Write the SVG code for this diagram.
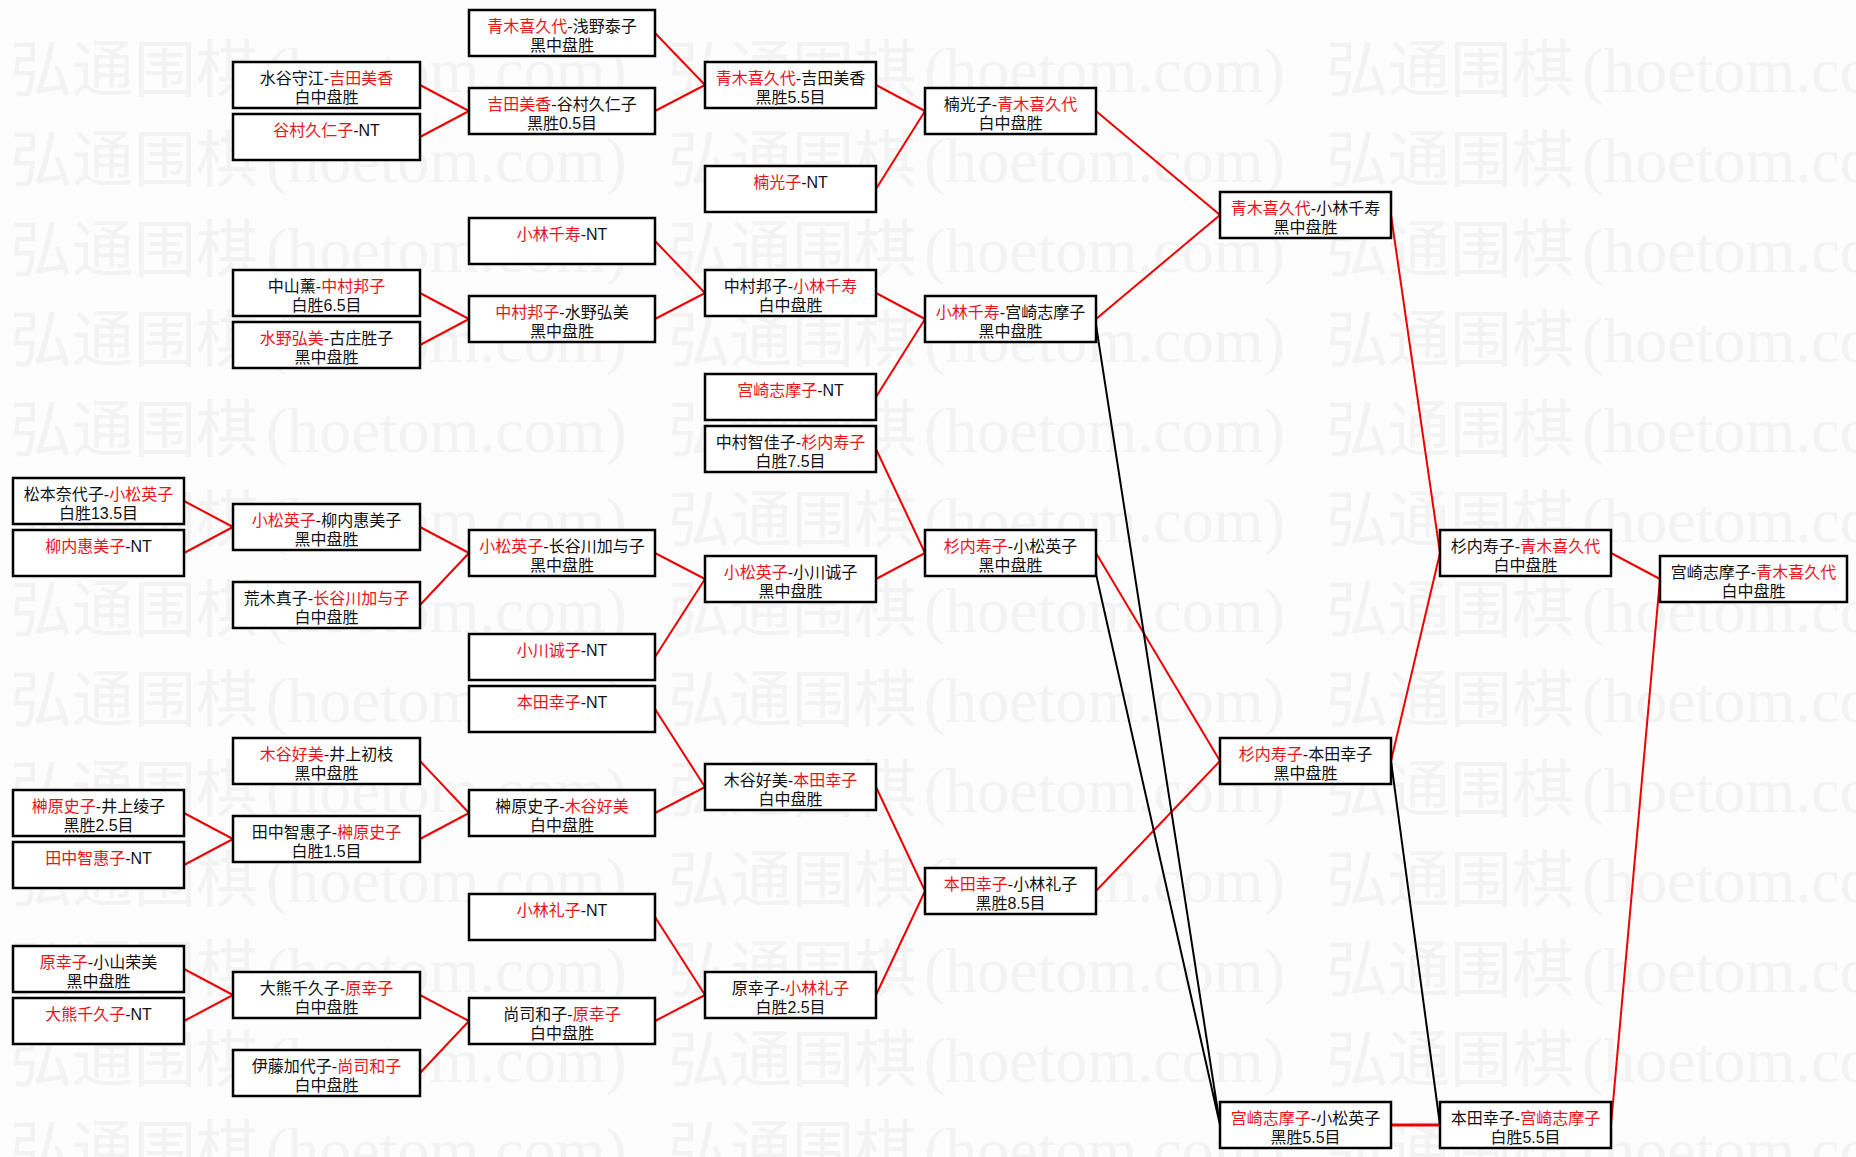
<svg xmlns="http://www.w3.org/2000/svg" xmlns:xlink="http://www.w3.org/1999/xlink" width="1856" height="1157" viewBox="0 0 1856 1157">
<style>
.box{fill:#fff;stroke:#000;stroke-width:2.5}
.t{font-family:"Liberation Sans","Noto Sans CJK SC",sans-serif;font-size:16px;fill:#111;text-anchor:middle}
.r{fill:#e8141c}
.cr{stroke:#ee0000;stroke-width:2;fill:none}
.cb{stroke:#000;stroke-width:2;fill:none}
.wm{fill:#f3f3f3;font-family:"Liberation Serif","Noto Sans CJK SC",serif;font-size:62px}
.wl{font-size:64px}
</style>
<defs>
<text id="wmu" class="wm" x="0" y="0">弘通围棋<tspan class="wl" dx="8">(hoetom.com)</tspan></text>
<g id="wmrow">
<use xlink:href="#wmu" x="10"/>
<use xlink:href="#wmu" x="668"/>
<use xlink:href="#wmu" x="1326"/>
</g>
</defs>
<rect width="1856" height="1157" fill="#fdfdfd"/>
<g id="watermark">
<use xlink:href="#wmrow" y="92"/>
<use xlink:href="#wmrow" y="182"/>
<use xlink:href="#wmrow" y="272"/>
<use xlink:href="#wmrow" y="362"/>
<use xlink:href="#wmrow" y="452"/>
<use xlink:href="#wmrow" y="542"/>
<use xlink:href="#wmrow" y="632"/>
<use xlink:href="#wmrow" y="722"/>
<use xlink:href="#wmrow" y="812"/>
<use xlink:href="#wmrow" y="902"/>
<use xlink:href="#wmrow" y="992"/>
<use xlink:href="#wmrow" y="1082"/>
<use xlink:href="#wmrow" y="1172"/>
</g>
<g id="connectors">
<path class="cr" d="M184,501L233,527M184,553L233,527M184,813L233,839M184,865L233,839M184,969L233,995M184,1021L233,995"/>
<path class="cr" d="M420,85L469,111M420,137L469,111M420,293L469,319M420,345L469,319M420,527L469,553M420,605L469,553M420,761L469,813M420,839L469,813M420,995L469,1021M420,1073L469,1021"/>
<path class="cr" d="M655,33L705,85M655,111L705,85M655,241L705,293M655,319L705,293M655,553L705,579M655,657L705,579M655,709L705,787M655,813L705,787M655,917L705,995M655,1021L705,995"/>
<path class="cr" d="M876,85L925,111M876,189L925,111M876,293L925,319M876,397L925,319M876,449L925,553M876,579L925,553M876,787L925,891M876,995L925,891"/>
<path class="cr" d="M1096,111L1220,215M1096,319L1220,215M1096,553L1220,761M1096,891L1220,761"/>
<path class="cb" d="M1096,325L1220,1125M1096,574L1220,1125"/>
<path class="cr" d="M1391,215L1440,553M1391,761L1440,553M1611,553L1660,579M1611,1125L1660,579"/>
<path class="cb" d="M1391,761L1440,1125"/>
<path class="cr" d="M1391,1125L1440,1125" style="stroke-width:3"/>
</g>
<g id="nA1"><rect class="box" x="13" y="478" width="171" height="46"/><text class="t" x="98.5" y="499.5">松本奈代子-<tspan class="r">小松英子</tspan><tspan x="98.5" dy="19.5">白胜13.5目</tspan></text></g>
<g id="nA2"><rect class="box" x="13" y="530" width="171" height="46"/><text class="t" x="98.5" y="551.5"><tspan class="r">柳内惠美子</tspan>-NT</text></g>
<g id="nA3"><rect class="box" x="13" y="790" width="171" height="46"/><text class="t" x="98.5" y="811.5"><tspan class="r">榊原史子</tspan>-井上绫子<tspan x="98.5" dy="19.5">黑胜2.5目</tspan></text></g>
<g id="nA4"><rect class="box" x="13" y="842" width="171" height="46"/><text class="t" x="98.5" y="863.5"><tspan class="r">田中智惠子</tspan>-NT</text></g>
<g id="nA5"><rect class="box" x="13" y="946" width="171" height="46"/><text class="t" x="98.5" y="967.5"><tspan class="r">原幸子</tspan>-小山荣美<tspan x="98.5" dy="19.5">黑中盘胜</tspan></text></g>
<g id="nA6"><rect class="box" x="13" y="998" width="171" height="46"/><text class="t" x="98.5" y="1019.5"><tspan class="r">大熊千久子</tspan>-NT</text></g>
<g id="nB1"><rect class="box" x="233" y="62" width="187" height="46"/><text class="t" x="326.5" y="83.5">水谷守江-<tspan class="r">吉田美香</tspan><tspan x="326.5" dy="19.5">白中盘胜</tspan></text></g>
<g id="nB2"><rect class="box" x="233" y="114" width="187" height="46"/><text class="t" x="326.5" y="135.5"><tspan class="r">谷村久仁子</tspan>-NT</text></g>
<g id="nB3"><rect class="box" x="233" y="270" width="187" height="46"/><text class="t" x="326.5" y="291.5">中山薰-<tspan class="r">中村邦子</tspan><tspan x="326.5" dy="19.5">白胜6.5目</tspan></text></g>
<g id="nB4"><rect class="box" x="233" y="322" width="187" height="46"/><text class="t" x="326.5" y="343.5"><tspan class="r">水野弘美</tspan>-古庄胜子<tspan x="326.5" dy="19.5">黑中盘胜</tspan></text></g>
<g id="nB5"><rect class="box" x="233" y="504" width="187" height="46"/><text class="t" x="326.5" y="525.5"><tspan class="r">小松英子</tspan>-柳内惠美子<tspan x="326.5" dy="19.5">黑中盘胜</tspan></text></g>
<g id="nB6"><rect class="box" x="233" y="582" width="187" height="46"/><text class="t" x="326.5" y="603.5">荒木真子-<tspan class="r">长谷川加与子</tspan><tspan x="326.5" dy="19.5">白中盘胜</tspan></text></g>
<g id="nB7"><rect class="box" x="233" y="738" width="187" height="46"/><text class="t" x="326.5" y="759.5"><tspan class="r">木谷好美</tspan>-井上初枝<tspan x="326.5" dy="19.5">黑中盘胜</tspan></text></g>
<g id="nB8"><rect class="box" x="233" y="816" width="187" height="46"/><text class="t" x="326.5" y="837.5">田中智惠子-<tspan class="r">榊原史子</tspan><tspan x="326.5" dy="19.5">白胜1.5目</tspan></text></g>
<g id="nB9"><rect class="box" x="233" y="972" width="187" height="46"/><text class="t" x="326.5" y="993.5">大熊千久子-<tspan class="r">原幸子</tspan><tspan x="326.5" dy="19.5">白中盘胜</tspan></text></g>
<g id="nB10"><rect class="box" x="233" y="1050" width="187" height="46"/><text class="t" x="326.5" y="1071.5">伊藤加代子-<tspan class="r">尚司和子</tspan><tspan x="326.5" dy="19.5">白中盘胜</tspan></text></g>
<g id="nC1"><rect class="box" x="469" y="10" width="186" height="46"/><text class="t" x="562" y="31.5"><tspan class="r">青木喜久代</tspan>-浅野泰子<tspan x="562" dy="19.5">黑中盘胜</tspan></text></g>
<g id="nC2"><rect class="box" x="469" y="88" width="186" height="46"/><text class="t" x="562" y="109.5"><tspan class="r">吉田美香</tspan>-谷村久仁子<tspan x="562" dy="19.5">黑胜0.5目</tspan></text></g>
<g id="nC3"><rect class="box" x="469" y="218" width="186" height="46"/><text class="t" x="562" y="239.5"><tspan class="r">小林千寿</tspan>-NT</text></g>
<g id="nC4"><rect class="box" x="469" y="296" width="186" height="46"/><text class="t" x="562" y="317.5"><tspan class="r">中村邦子</tspan>-水野弘美<tspan x="562" dy="19.5">黑中盘胜</tspan></text></g>
<g id="nC5"><rect class="box" x="469" y="530" width="186" height="46"/><text class="t" x="562" y="551.5"><tspan class="r">小松英子</tspan>-长谷川加与子<tspan x="562" dy="19.5">黑中盘胜</tspan></text></g>
<g id="nC6"><rect class="box" x="469" y="634" width="186" height="46"/><text class="t" x="562" y="655.5"><tspan class="r">小川诚子</tspan>-NT</text></g>
<g id="nC7"><rect class="box" x="469" y="686" width="186" height="46"/><text class="t" x="562" y="707.5"><tspan class="r">本田幸子</tspan>-NT</text></g>
<g id="nC8"><rect class="box" x="469" y="790" width="186" height="46"/><text class="t" x="562" y="811.5">榊原史子-<tspan class="r">木谷好美</tspan><tspan x="562" dy="19.5">白中盘胜</tspan></text></g>
<g id="nC9"><rect class="box" x="469" y="894" width="186" height="46"/><text class="t" x="562" y="915.5"><tspan class="r">小林礼子</tspan>-NT</text></g>
<g id="nC10"><rect class="box" x="469" y="998" width="186" height="46"/><text class="t" x="562" y="1019.5">尚司和子-<tspan class="r">原幸子</tspan><tspan x="562" dy="19.5">白中盘胜</tspan></text></g>
<g id="nD1"><rect class="box" x="705" y="62" width="171" height="46"/><text class="t" x="790.5" y="83.5"><tspan class="r">青木喜久代</tspan>-吉田美香<tspan x="790.5" dy="19.5">黑胜5.5目</tspan></text></g>
<g id="nD2"><rect class="box" x="705" y="166" width="171" height="46"/><text class="t" x="790.5" y="187.5"><tspan class="r">楠光子</tspan>-NT</text></g>
<g id="nD3"><rect class="box" x="705" y="270" width="171" height="46"/><text class="t" x="790.5" y="291.5">中村邦子-<tspan class="r">小林千寿</tspan><tspan x="790.5" dy="19.5">白中盘胜</tspan></text></g>
<g id="nD4"><rect class="box" x="705" y="374" width="171" height="46"/><text class="t" x="790.5" y="395.5"><tspan class="r">宫崎志摩子</tspan>-NT</text></g>
<g id="nD5"><rect class="box" x="705" y="426" width="171" height="46"/><text class="t" x="790.5" y="447.5">中村智佳子-<tspan class="r">杉内寿子</tspan><tspan x="790.5" dy="19.5">白胜7.5目</tspan></text></g>
<g id="nD6"><rect class="box" x="705" y="556" width="171" height="46"/><text class="t" x="790.5" y="577.5"><tspan class="r">小松英子</tspan>-小川诚子<tspan x="790.5" dy="19.5">黑中盘胜</tspan></text></g>
<g id="nD7"><rect class="box" x="705" y="764" width="171" height="46"/><text class="t" x="790.5" y="785.5">木谷好美-<tspan class="r">本田幸子</tspan><tspan x="790.5" dy="19.5">白中盘胜</tspan></text></g>
<g id="nD8"><rect class="box" x="705" y="972" width="171" height="46"/><text class="t" x="790.5" y="993.5">原幸子-<tspan class="r">小林礼子</tspan><tspan x="790.5" dy="19.5">白胜2.5目</tspan></text></g>
<g id="nE1"><rect class="box" x="925" y="88" width="171" height="46"/><text class="t" x="1010.5" y="109.5">楠光子-<tspan class="r">青木喜久代</tspan><tspan x="1010.5" dy="19.5">白中盘胜</tspan></text></g>
<g id="nE2"><rect class="box" x="925" y="296" width="171" height="46"/><text class="t" x="1010.5" y="317.5"><tspan class="r">小林千寿</tspan>-宫崎志摩子<tspan x="1010.5" dy="19.5">黑中盘胜</tspan></text></g>
<g id="nE3"><rect class="box" x="925" y="530" width="171" height="46"/><text class="t" x="1010.5" y="551.5"><tspan class="r">杉内寿子</tspan>-小松英子<tspan x="1010.5" dy="19.5">黑中盘胜</tspan></text></g>
<g id="nE4"><rect class="box" x="925" y="868" width="171" height="46"/><text class="t" x="1010.5" y="889.5"><tspan class="r">本田幸子</tspan>-小林礼子<tspan x="1010.5" dy="19.5">黑胜8.5目</tspan></text></g>
<g id="nF1"><rect class="box" x="1220" y="192" width="171" height="46"/><text class="t" x="1305.5" y="213.5"><tspan class="r">青木喜久代</tspan>-小林千寿<tspan x="1305.5" dy="19.5">黑中盘胜</tspan></text></g>
<g id="nF2"><rect class="box" x="1220" y="738" width="171" height="46"/><text class="t" x="1305.5" y="759.5"><tspan class="r">杉内寿子</tspan>-本田幸子<tspan x="1305.5" dy="19.5">黑中盘胜</tspan></text></g>
<g id="nF3"><rect class="box" x="1220" y="1102" width="171" height="46"/><text class="t" x="1305.5" y="1123.5"><tspan class="r">宫崎志摩子</tspan>-小松英子<tspan x="1305.5" dy="19.5">黑胜5.5目</tspan></text></g>
<g id="nG1"><rect class="box" x="1440" y="530" width="171" height="46"/><text class="t" x="1525.5" y="551.5">杉内寿子-<tspan class="r">青木喜久代</tspan><tspan x="1525.5" dy="19.5">白中盘胜</tspan></text></g>
<g id="nG2"><rect class="box" x="1440" y="1102" width="171" height="46"/><text class="t" x="1525.5" y="1123.5">本田幸子-<tspan class="r">宫崎志摩子</tspan><tspan x="1525.5" dy="19.5">白胜5.5目</tspan></text></g>
<g id="nH1"><rect class="box" x="1660" y="556" width="187" height="46"/><text class="t" x="1753.5" y="577.5">宫崎志摩子-<tspan class="r">青木喜久代</tspan><tspan x="1753.5" dy="19.5">白中盘胜</tspan></text></g>
</svg>
